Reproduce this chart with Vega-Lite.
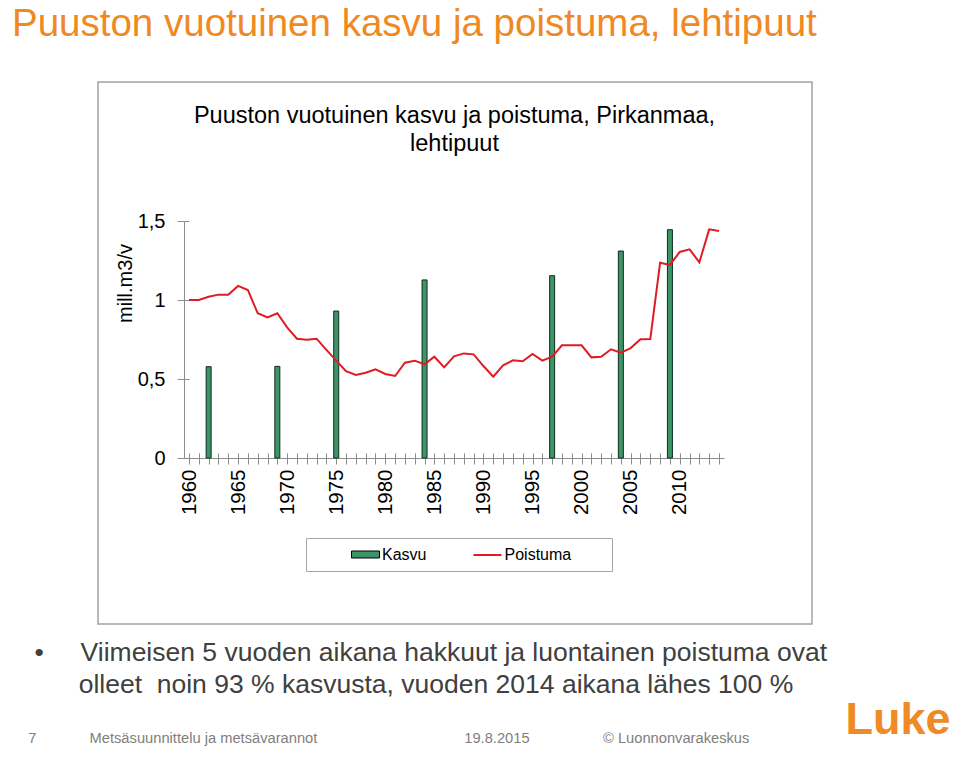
{
  "$schema": "https://vega.github.io/schema/vega-lite/v6.json",
  "width": 714,
  "height": 542,
  "autosize": {"type": "none"},
  "padding": {"left": 98, "top": 82, "right": 148, "bottom": 145},
  "background": "#ffffff",
  "view": {"stroke": "#a3a3a3", "strokeWidth": 1.5},
  "title": {
    "text": "Puuston vuotuinen kasvu ja poistuma, lehtipuut",
    "subtitle": "\u200b\u00a0\u00a0\u00a0\u00a07\u00a0\u00a0\u00a0\u00a0\u00a0\u00a0\u00a0\u00a0\u00a0\u00a0\u00a0\u00a0\u00a0Metsäsuunnittelu ja metsävarannot\u00a0\u00a0\u00a0\u00a0\u00a0\u00a0\u00a0\u00a0\u00a0\u00a0\u00a0\u00a0\u00a0\u00a0\u00a0\u00a0\u00a0\u00a0\u00a0\u00a0\u00a0\u00a0\u00a0\u00a0\u00a0\u00a0\u00a0\u00a0\u00a0\u00a0\u00a0\u00a0\u00a0\u00a0\u00a0\u00a019.8.2015\u00a0\u00a0\u00a0\u00a0\u00a0\u00a0\u00a0\u00a0\u00a0\u00a0\u00a0\u00a0\u00a0\u00a0\u00a0\u00a0\u00a0\u00a0© Luonnonvarakeskus",
    "anchor": "start",
    "frame": "group",
    "dx": -86,
    "offset": -665,
    "font": "Liberation Sans",
    "fontSize": 38.5,
    "fontWeight": "normal",
    "color": "#f0891f",
    "subtitleFont": "Liberation Sans",
    "subtitleFontSize": 14.7,
    "subtitleColor": "#808080",
    "subtitlePadding": 686.5
  },
  "datasets": {
    "kasvu": [
      {"year": 1962, "value": 0.578},
      {"year": 1969, "value": 0.58},
      {"year": 1975, "value": 0.93},
      {"year": 1984, "value": 1.127},
      {"year": 1997, "value": 1.154},
      {"year": 2004, "value": 1.31},
      {"year": 2009, "value": 1.445}
    ],
    "poistuma": [
      {"year": 1960, "value": 1.0},
      {"year": 1961, "value": 1.0},
      {"year": 1962, "value": 1.021},
      {"year": 1963, "value": 1.034},
      {"year": 1964, "value": 1.034},
      {"year": 1965, "value": 1.089},
      {"year": 1966, "value": 1.063},
      {"year": 1967, "value": 0.916},
      {"year": 1968, "value": 0.89},
      {"year": 1969, "value": 0.916},
      {"year": 1970, "value": 0.827},
      {"year": 1971, "value": 0.755},
      {"year": 1972, "value": 0.749},
      {"year": 1973, "value": 0.755},
      {"year": 1974, "value": 0.684},
      {"year": 1975, "value": 0.616},
      {"year": 1976, "value": 0.549},
      {"year": 1977, "value": 0.525},
      {"year": 1978, "value": 0.54},
      {"year": 1979, "value": 0.561},
      {"year": 1980, "value": 0.532},
      {"year": 1981, "value": 0.519},
      {"year": 1982, "value": 0.603},
      {"year": 1983, "value": 0.616},
      {"year": 1984, "value": 0.593},
      {"year": 1985, "value": 0.641},
      {"year": 1986, "value": 0.574},
      {"year": 1987, "value": 0.643},
      {"year": 1988, "value": 0.662},
      {"year": 1989, "value": 0.656},
      {"year": 1990, "value": 0.582},
      {"year": 1991, "value": 0.515},
      {"year": 1992, "value": 0.587},
      {"year": 1993, "value": 0.618},
      {"year": 1994, "value": 0.612},
      {"year": 1995, "value": 0.658},
      {"year": 1996, "value": 0.616},
      {"year": 1997, "value": 0.641},
      {"year": 1998, "value": 0.713},
      {"year": 1999, "value": 0.713},
      {"year": 2000, "value": 0.713},
      {"year": 2001, "value": 0.637},
      {"year": 2002, "value": 0.641},
      {"year": 2003, "value": 0.688},
      {"year": 2004, "value": 0.667},
      {"year": 2005, "value": 0.696},
      {"year": 2006, "value": 0.751},
      {"year": 2007, "value": 0.753},
      {"year": 2008, "value": 1.236},
      {"year": 2009, "value": 1.222},
      {"year": 2010, "value": 1.304},
      {"year": 2011, "value": 1.321},
      {"year": 2012, "value": 1.239},
      {"year": 2013, "value": 1.447},
      {"year": 2014, "value": 1.437}
    ]
  },
  "layer": [
    {
      "data": {"name": "kasvu"},
      "mark": {"type": "bar", "size": 5, "stroke": "#0f2e1e", "strokeWidth": 1},
      "encoding": {
        "x": {
          "field": "year",
          "type": "quantitative",
          "scale": {"domain": [1960, 2014], "range": [86, 626], "nice": false, "zero": false},
          "axis": {
            "orient": "bottom",
            "offset": -166,
            "tickCount": 54,
            "labelExpr": "datum.value % 5 === 0 ? '' + datum.value : ''",
            "labelAngle": 270,
            "labelFontSize": 20.5,
            "labelColor": "#000000",
            "labelPadding": 5,
            "labelFlush": false,
            "labelOverlap": false,
            "labelBound": false,
            "tickSize": 6,
            "tickColor": "#8c8c8c",
            "domainColor": "#8c8c8c",
            "grid": false,
            "title": [
              "•\u00a0\u00a0\u00a0\u00a0\u00a0Viimeisen 5 vuoden aikana hakkuut ja luontainen poistuma ovat",
              "\u200b\u00a0\u00a0\u00a0\u00a0\u00a0\u00a0olleet\u00a0 noin 93 % kasvusta, vuoden 2014 aikana lähes 100 %"
            ],
            "titleX": -64,
            "titleY": 202,
            "titleAlign": "left",
            "titleBaseline": "alphabetic",
            "titleFontSize": 26.5,
            "titleFontWeight": "normal",
            "titleColor": "#404040",
            "titleLineHeight": 32,
            "titleLimit": 3000
          }
        },
        "y": {
          "field": "value",
          "type": "quantitative",
          "scale": {"domain": [0, 1.5], "range": [376, 139], "nice": false},
          "axis": {
            "orient": "left",
            "offset": -86,
            "tickCount": 3,
            "format": "~g",
            "labelFontSize": 20,
            "labelColor": "#000000",
            "labelPadding": 12,
            "labelFlush": false,
            "tickSize": 7,
            "tickColor": "#8c8c8c",
            "domainColor": "#8c8c8c",
            "grid": false,
            "title": "mill.m3/v",
            "titleX": -59,
            "titleY": 201,
            "titleAngle": 270,
            "titleAlign": "center",
            "titleBaseline": "middle",
            "titleFontSize": 20,
            "titleFontWeight": "normal",
            "titleColor": "#000000"
          }
        },
        "color": {
          "datum": "Kasvu",
          "type": "nominal",
          "scale": {"domain": ["Kasvu"], "range": ["#3d9467"]},
          "legend": {
            "orient": "none",
            "legendX": 208,
            "legendY": 456,
            "direction": "horizontal",
            "title": "\u00a0",
            "titleOrient": "right",
            "titlePadding": 178,
            "padding": 8,
            "strokeColor": "#a6a6a6",
            "symbolType": "M-1.75,-0.4375H1.75V0.4375H-1.75Z",
            "symbolSize": 256,
            "symbolOffset": 43,
            "labelOffset": 8,
            "symbolStrokeColor": "#000000",
            "symbolStrokeWidth": 1,
            "labelFontSize": 16,
            "labelColor": "#000000"
          }
        }
      }
    },
    {
      "data": {"name": "poistuma"},
      "mark": {"type": "line", "strokeWidth": 2},
      "encoding": {
        "x": {
          "field": "year",
          "type": "quantitative",
          "axis": {
            "orient": "top",
            "offset": -376,
            "tickCount": 54,
            "domain": false,
            "ticks": true,
            "tickSize": 5,
            "tickColor": "#8c8c8c",
            "labels": false,
            "grid": false,
            "title": ["Puuston vuotuinen kasvu ja poistuma, Pirkanmaa,", "lehtipuut"],
            "titleX": 356,
            "titleY": -336,
            "titleAlign": "center",
            "titleBaseline": "alphabetic",
            "titleFontSize": 23.5,
            "titleFontWeight": "normal",
            "titleColor": "#000000",
            "titleLineHeight": 28,
            "titleLimit": 3000
          }
        },
        "y": {
          "field": "value",
          "type": "quantitative",
          "axis": {
            "orient": "right",
            "offset": -628,
            "tickCount": 3,
            "domain": false,
            "ticks": true,
            "tickSize": 5,
            "tickColor": "#8c8c8c",
            "labels": false,
            "grid": false,
            "title": "Luke",
            "titleX": 661,
            "titleY": 651,
            "titleAngle": 0,
            "titleAlign": "left",
            "titleBaseline": "alphabetic",
            "titleFont": "Liberation Sans",
            "titleFontSize": 45,
            "titleFontWeight": "bold",
            "titleColor": "#f08a24"
          }
        },
        "color": {
          "datum": "Poistuma",
          "type": "nominal",
          "scale": {"domain": ["Poistuma"], "range": ["#e01b22"]},
          "legend": {
            "orient": "none",
            "legendX": 329.5,
            "legendY": 456,
            "direction": "horizontal",
            "title": null,
            "padding": 8,
            "symbolType": "M-1.75,0H1.75",
            "symbolSize": 256,
            "symbolOffset": 43,
            "labelOffset": 8,
            "symbolStrokeWidth": 2,
            "labelFontSize": 16,
            "labelColor": "#000000"
          }
        }
      }
    }
  ],
  "resolve": {
    "scale": {"color": "independent"},
    "legend": {"color": "independent"},
    "axis": {"x": "independent", "y": "independent"}
  },
  "config": {
    "font": "Liberation Sans",
    "locale": {"number": {"decimal": ",", "thousands": "\u00a0", "grouping": [3], "currency": ["", "\u00a0€"]}},
    "axis": {"labelFont": "Liberation Sans", "titleFont": "Liberation Sans"},
    "legend": {"labelFont": "Liberation Sans"}
  }
}
